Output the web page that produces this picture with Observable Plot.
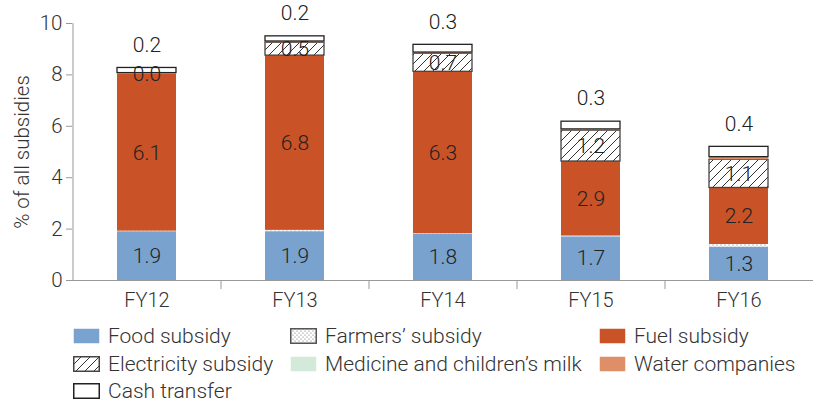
<!DOCTYPE html>
<html><head><meta charset="utf-8">
<script src="https://cdn.jsdelivr.net/npm/d3@7"></script>
<script src="https://cdn.jsdelivr.net/npm/@observablehq/plot@0.6"></script>
<style>
body{margin:0;background:#fff;font-family:Roboto,sans-serif;font-weight:300;}
#wrap{position:relative;width:813px;height:400px;overflow:hidden}
#chart{position:absolute;left:0;top:0}
.item{position:absolute;display:flex;align-items:center;font-size:21px;line-height:18px;color:#333;white-space:nowrap;height:18px}
.item svg{margin-right:8px;flex:none}
</style>
</head><body>
<svg width="0" height="0" style="position:absolute">
  <defs>
    <pattern id="hatch" patternUnits="userSpaceOnUse" width="9" height="9">
      <rect width="9" height="9" fill="#fff"/>
      <path d="M-2,2 l4,-4 M0,9 l9,-9 M7,11 l4,-4" stroke="#333" stroke-width="1"/>
    </pattern>
    <pattern id="dots" patternUnits="userSpaceOnUse" width="4" height="4">
      <rect width="4" height="4" fill="#fff"/>
      <circle cx="1" cy="1" r="0.6" fill="#666"/>
      <circle cx="3" cy="3" r="0.6" fill="#666"/>
    </pattern>
  </defs>
</svg>
<div id="wrap"><div id="chart"></div><div id="legend"></div></div>
<script>
const years = ["FY12", "FY13", "FY14", "FY15", "FY16"];
const seriesNames = ["Food subsidy", "Farmers’ subsidy", "Fuel subsidy", "Electricity subsidy", "Medicine and children’s milk", "Water companies", "Cash transfer"];
const food        = [1.9, 1.9, 1.8, 1.7, 1.3];
const farmers     = [0.02, 0.05, 0.02, 0.03, 0.1];
const fuel        = [6.1, 6.8, 6.3, 2.9, 2.2];
const electricity = [0.0, 0.5, 0.7, 1.2, 1.1];
const medicine    = [0, 0, 0, 0, 0];
const water       = [0.05, 0.05, 0.05, 0.05, 0.1];
const cash        = [0.2, 0.2, 0.3, 0.3, 0.4];
const yTicks = [0, 2, 4, 6, 8, 10];

const seriesValues = [food, farmers, fuel, electricity, medicine, water, cash];
const fills = {
  "Food subsidy": "#7aa2cf",
  "Farmers’ subsidy": "url(#dots)",
  "Fuel subsidy": "#c95227",
  "Electricity subsidy": "url(#hatch)",
  "Medicine and children’s milk": "#d3eadb",
  "Water companies": "#df8f68",
  "Cash transfer": "#ffffff"
};
const strokes = {
  "Electricity subsidy": "#444",
  "Cash transfer": "#222"
};
const insideLabels = new Set(["Food subsidy", "Fuel subsidy", "Electricity subsidy"]);

const data = [];
years.forEach((yr, i) => {
  seriesNames.forEach((s, j) => data.push({year: yr, series: s, value: seriesValues[j][i]}));
});
const fmt = d3.format(".1f");

const font = "Roboto, sans-serif";
const chart = Plot.plot({
  width: 813, height: 312,
  marginLeft: 72, marginRight: 0, marginTop: 23, marginBottom: 32,
  style: {fontFamily: font, fontSize: "19px", fontWeight: 300, color: "#333", background: "#fff"},
  x: {domain: years, paddingInner: 0.6, paddingOuter: 0.3, axis: null},
  y: {domain: [0, 10], axis: null},
  color: {type: "identity"},
  marks: [
    Plot.barY(data, Plot.stackY({
      x: "year", y: "value", z: "series", order: seriesNames,
      fill: d => fills[d.series],
      stroke: d => strokes[d.series] || "none",
      strokeWidth: 1.3
    })),
    Plot.text(data, Plot.stackY({
      x: "year", y: "value", z: "series", order: seriesNames,
      text: d => insideLabels.has(d.series) ? fmt(d.value) : null,
      fill: "#222", fontSize: 21
    })),
    Plot.text(data, Plot.stackY2({
      x: "year", y: "value", z: "series", order: seriesNames,
      text: d => d.series === "Cash transfer" ? fmt(d.value) : null,
      fill: "#222", fontSize: 21, dy: -23
    })),
    Plot.ruleY([0], {stroke: "#999"}),
    Plot.ruleX(["FY12"], {dx: -74, y1: 0, y2: 10, stroke: "#999"}),
    Plot.ruleX(years.slice(0, 4), {dx: 74, y1: 0, y2: -0.35, stroke: "#999"}),
    Plot.axisY({ticks: yTicks, tickSize: 6, tickPadding: 4, stroke: "#999", fill: "#333", fontSize: 20.5,
      label: "% of all subsidies", labelAnchor: "center", labelOffset: 58, labelArrow: false}),
    Plot.axisX({tickSize: 0, tickPadding: 12, fill: "#333", fontSize: 20, label: null})
  ]
});
document.getElementById("chart").appendChild(chart);

// Legend
const legendPos = [
  [73, 327], [290, 327], [599, 327],
  [73, 355], [290, 355], [599, 355],
  [73, 382]
];
const legend = document.getElementById("legend");
seriesNames.forEach((s, i) => {
  const div = document.createElement("div");
  div.className = "item";
  div.style.left = legendPos[i][0] + "px";
  div.style.top = legendPos[i][1] + "px";
  const st = strokes[s] || (s === "Farmers’ subsidy" ? "#555" : "none");
  div.innerHTML = `<svg width="27" height="16"><rect x="0.75" y="0.75" width="25.5" height="14.5" fill="${fills[s]}" stroke="${st}" stroke-width="1.5"/></svg><span>${s}</span>`;
  legend.appendChild(div);
});
</script>
</body></html>
